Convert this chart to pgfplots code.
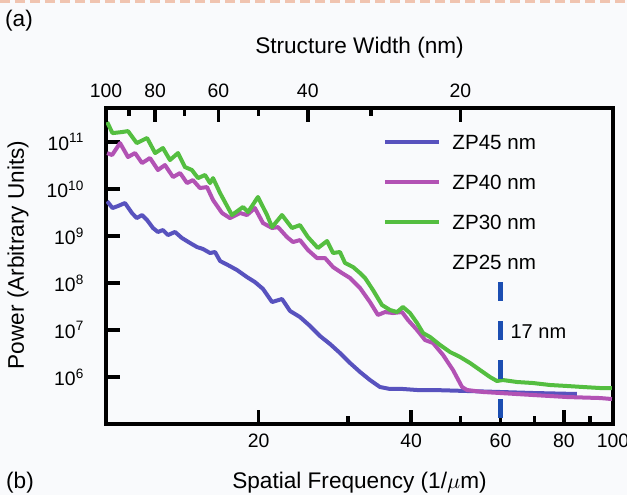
\documentclass[border=0pt]{standalone}
\usepackage{fontspec}
\setmainfont{Liberation Sans}
\usepackage{pgfplots}
\pgfplotsset{compat=1.18}

\definecolor{zpA}{RGB}{88,82,190}
\definecolor{zpB}{RGB}{178,82,180}
\definecolor{zpC}{RGB}{84,190,64}
\definecolor{zpdash}{RGB}{28,78,178}
\definecolor{bg}{RGB}{249,250,252}

\newcommand{\tickfont}{\fontsize{9.7}{11}\selectfont}
\newcommand{\labfont}{\fontsize{11.3}{13}\selectfont}

\begin{document}
\begin{tikzpicture}
\fill[bg] (-53pt,-35.5pt) rectangle (260.5pt,212pt);
\draw[color={rgb,255:red,240;green,196;blue,176}, line width=1.4pt,
      dash pattern=on 5pt off 2.5pt] (-53pt,211.3pt) -- (260.5pt,211.3pt);

\begin{axis}[
  scale only axis, width=253.5pt, height=158pt,
  xmode=log, ymode=log,
  xmin=10, xmax=100, ymin=1e5, ymax=5.3e11,
  axis line style={line width=2pt},
  tick style={line width=1.8pt, black},
  major tick length=7pt, minor tick length=3.8pt,
  tick align=inside,
  tick label style={font=\tickfont},
  label style={font=\labfont},
  xtick pos=left, ytick pos=left,
  xtick={20,40,60,80,100}, xticklabels={20,40,60,80,100},
  minor xtick={30,50,70,90},
  ytick={1e6,1e7,1e8,1e9,1e10,1e11},
  yticklabels={10\textsuperscript{6},10\textsuperscript{7},10\textsuperscript{8},
               10\textsuperscript{9},10\textsuperscript{10},10\textsuperscript{11}},
  yminorticks=false,
  xticklabel style={yshift=-1.3pt},
  yticklabel style={xshift=-7.3pt},
  xlabel={Spatial Frequency (1/$\mu$m)},
  xlabel style={at={(axis description cs:0.5,-0.1867)}, anchor=center},
  ylabel={Power (Arbitrary Units)},
  ylabel style={at={(axis description cs:-0.1736,0.535)}, anchor=center},
  legend style={at={(axis description cs:0.5464,0.9158)}, anchor=north west,
    draw=none, fill=none, inner sep=0pt, row sep=12.6pt, column sep=5.5pt,
    font=\fontsize{10.3}{12}\selectfont,
    nodes={inner sep=0pt, text height=7.4pt, text depth=0pt}},
  legend image code/.code={\draw[#1] (0pt,0pt) -- (27pt,0pt);},
  legend cell align=left,
]
% ZP45 nm
\addplot[zpA, line width=2pt, line join=round] coordinates {
  (10.05,5.5e9) (10.3,3.94e9) (10.56,4.35e9) (10.9,5.04e9) (11.25,3.09e9)
  (11.5,2.41e9) (11.78,2.8e9) (12.05,2.19e9) (12.38,1.48e9) (12.66,1.22e9)
  (12.95,1.34e9) (13.25,1.05e9) (13.68,1.22e9) (14.12,9.06e8) (14.65,7.1e8)
  (15.12,5.83e8) (15.54,5.29e8) (16.04,4.35e8) (16.41,4.57e8) (16.79,2.94e8)
  (17.4,2.41e8) (18.13,1.89e8) (18.97,1.34e8) (19.67,1.05e8) (20.4,7.5e7)
  (21.26,3.94e7) (22.24,4.57e7) (23.07,2.54e7) (24.13,1.89e7) (25.26,1.22e7)
  (26.43,7.45e6) (27.66,5.04e6) (28.94,3.24e6) (30.29,1.99e6) (31.7,1.28e6)
  (33.16,8.63e5) (34.7,6.13e5) (36.33,5.56e5) (38.53,5.56e5) (41.07,5.29e5)
  (44.16,5.29e5) (51.5,5.04e5) (59.8,4.8e5) (69.5,4.57e5) (84.9,4.35e5)
};
\addlegendentry{ZP45 nm}
% ZP40 nm
\addplot[zpB, line width=2pt, line join=round] coordinates {
  (10.05,5.83e10) (10.28,5.29e10) (10.66,9.5e10) (11.05,4.8e10) (11.41,5.83e10)
  (11.78,3.57e10) (12.21,4.57e10) (12.66,2.54e10) (13.07,3.24e10) (13.56,1.8e10)
  (14.0,2.19e10) (14.45,1.34e10) (14.84,1.55e10) (15.32,1.05e10) (15.82,1.1e10)
  (16.26,5.83e9) (16.94,3.09e9) (17.56,2.41e9) (18.38,3.09e9) (18.97,2.8e9)
  (19.67,3.94e9) (20.4,1.89e9) (21.26,1.48e9) (21.84,1.55e9) (22.75,9.5e8)
  (23.38,7.45e8) (24.13,8.2e8) (25.02,5.04e8) (26.07,3.4e8) (27.04,3.4e8)
  (28.04,2.19e8) (29.21,1.63e8) (30.29,1.28e8) (31.7,7.83e7) (33.16,3.94e7)
  (34.39,2.09e7) (35.5,2.41e7) (36.82,2.3e7) (38.36,2.41e7) (39.42,1.63e7)
  (41.07,1.0e7) (42.58,6.13e6) (44.16,5.29e6) (46.21,2.94e6) (48.35,1.41e6)
  (50.38,6.13e5) (51.53,5.29e5) (55.41,4.8e5) (59.8,4.57e5) (69.5,4.14e5)
  (81.2,3.75e5) (94.3,3.57e5) (99.5,3.4e5)
};
\addlegendentry{ZP40 nm}
% ZP30 nm
\addplot[zpC, line width=2pt, line join=round] coordinates {
  (10.05,2.66e11) (10.3,1.55e11) (10.75,1.63e11) (11.05,1.71e11) (11.5,9.5e10)
  (12.05,1.22e11) (12.5,5.83e10) (12.95,7.45e10) (13.37,4.14e10) (13.87,5.83e10)
  (14.31,2.94e10) (14.77,2.54e10) (15.19,1.71e10) (15.68,1.99e10) (16.04,1.34e10)
  (16.26,1.71e10) (16.79,8.2e9) (17.72,2.8e9) (18.63,4.14e9) (19.06,3.24e9)
  (19.94,6.76e9) (20.78,2.8e9) (21.26,1.55e9) (22.24,2.8e9) (23.27,1.48e9)
  (24.13,1.71e9) (25.02,9.5e8) (26.18,5.56e8) (27.29,7.83e8) (28.04,4.35e8)
  (28.94,4.57e8) (29.61,2.67e8) (30.71,2.19e8) (31.7,1.63e8) (32.43,1.28e8)
  (33.62,7.1e7) (35.03,3.4e7) (36.33,2.67e7) (37.5,2.41e7) (38.53,3.09e7)
  (39.78,2.3e7) (41.07,1.41e7) (42.2,8.63e6) (43.57,7.1e6) (45.6,4.8e6)
  (47.71,3.4e6) (49.92,2.67e6) (52.23,1.99e6) (54.66,1.41e6) (57.2,1.0e6)
  (59.04,8.22e5) (60.67,8.63e5) (64.67,7.83e5) (69.54,7.45e5) (75.11,6.76e5)
  (81.18,6.44e5) (87.27,6.13e5) (94.28,5.83e5) (99.5,5.83e5)
};
\addlegendentry{ZP30 nm}
% ZP25 nm marker (17 nm)
\addplot[zpdash, line width=2.4pt, dash pattern=on 9.5pt off 10pt, line cap=butt, forget plot]
  coordinates {(60,1.05e8) (60,1e5)};
\addlegendimage{opacity=0}
\addlegendentry{ZP25 nm}
\node[anchor=west, inner sep=0pt, font=\fontsize{10}{12}\selectfont] at (axis cs:62.7,9.1e6) {17 nm};
\end{axis}

\begin{axis}[
  scale only axis, width=253.5pt, height=158pt,
  xmode=log, xmin=10, xmax=100, ymin=0, ymax=1,
  axis line style={line width=2pt},
  tick style={line width=1.8pt, black},
  major tick length=7pt, minor tick length=3.8pt,
  tick align=inside,
  tick label style={font=\tickfont},
  label style={font=\labfont},
  axis x line*=top, axis y line=none,
  xtick={10,12.5,16.6667,25,50}, xticklabels={100,80,60,40,20},
  minor xtick={11.1111,14.2857,20,33.3333},
  xticklabel style={yshift=1.8pt},
  xlabel={Structure Width (nm)},
  xlabel style={at={(axis description cs:0.5,1.19)}, anchor=center},
]
\end{axis}

\node[font=\labfont] at (-43.5pt,201.5pt) {(a)};
\node[font=\labfont] at (-43pt,-29.5pt) {(b)};

\pgfresetboundingbox
\path[use as bounding box] (-53pt,-35.5pt) rectangle (260.5pt,212pt);
\end{tikzpicture}
\end{document}
